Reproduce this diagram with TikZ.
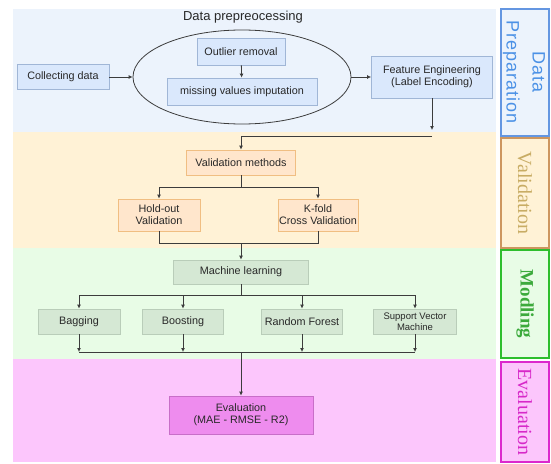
\documentclass[tikz,border=0pt]{standalone}
\usepackage{fontspec}
\setmainfont{Liberation Sans}
\newfontfamily\serifont{Liberation Serif}
\newfontfamily\widesans[LetterSpace=6]{Liberation Sans}
\usetikzlibrary{shapes.geometric,arrows.meta}
\definecolor{bandblue}{RGB}{236,243,252}
\definecolor{bandorange}{RGB}{255,242,214}
\definecolor{bandgreen}{RGB}{232,252,230}
\definecolor{bandpink}{RGB}{252,198,252}
\definecolor{boxblue}{RGB}{218,232,252}
\definecolor{lineblue}{RGB}{160,182,214}
\definecolor{boxorange}{RGB}{255,230,204}
\definecolor{lineorange}{RGB}{240,190,130}
\definecolor{boxgreen}{RGB}{213,232,212}
\definecolor{linegreen}{RGB}{185,205,185}
\definecolor{boxpink}{RGB}{238,140,238}
\definecolor{linepink}{RGB}{200,110,200}
\definecolor{labblue}{RGB}{75,145,230}
\definecolor{labblueline}{RGB}{100,150,225}
\definecolor{laborange}{RGB}{200,172,100}
\definecolor{laborangeline}{RGB}{205,150,95}
\definecolor{labgreen}{RGB}{60,170,60}
\definecolor{labgreenline}{RGB}{45,190,45}
\definecolor{labpink}{RGB}{215,40,200}
\definecolor{labpinkline}{RGB}{220,40,205}
\definecolor{txt}{RGB}{40,40,40}
\definecolor{conn}{RGB}{60,60,60}
\tikzset{
  basebox/.style={draw, line width=0.8pt, text=txt, align=center, inner sep=1pt,
    font=\fontsize{10.8}{12}\selectfont},
  bbox/.style={basebox, fill=boxblue, draw=lineblue},
  obox/.style={basebox, fill=boxorange, draw=lineorange},
  gbox/.style={basebox, fill=boxgreen, draw=linegreen},
  pbox/.style={basebox, fill=boxpink, draw=linepink},
  arr/.style={draw=conn, line width=0.8pt, -{Latex[length=4pt,width=4pt]}},
  ln/.style={draw=conn, line width=0.8pt},
  labbox/.style={line width=1.5pt}
}
\begin{document}
\begin{tikzpicture}[x=1pt,y=-1pt]
\useasboundingbox (0,0) rectangle (551,463);
% bands
\fill[bandblue] (13,9) rectangle (496,132);
\fill[bandorange] (13,132) rectangle (496,248);
\fill[bandgreen] (13,248) rectangle (496,359);
\fill[bandpink] (13,359) rectangle (496,462);
% side labels
\draw[labbox, draw=labblueline, fill=bandblue] (501,9) rectangle (549,136);
\draw[labbox, draw=laborangeline, fill=bandorange] (501,138) rectangle (549,248);
\draw[labbox, draw=labgreenline, fill=bandgreen] (501,250) rectangle (549,358);
\draw[labbox, draw=labpinkline, fill=bandpink] (501,362) rectangle (549,462);
\node[rotate=-90, text=labblue, align=center, font=\widesans\fontsize{18}{26}\selectfont] (lab1) at (524,72) {Data\\Preparation};
\node[rotate=-90, text=laborange, font=\serifont\fontsize{20}{22}\selectfont] (lab2) at (525,193) {Validation};
\node[rotate=-90, text=labgreen, font=\serifont\bfseries\fontsize{19}{21}\selectfont] (lab3) at (525,304) {Modling};
\node[rotate=-90, text=labpink, font=\serifont\fontsize{20}{22}\selectfont] (lab4) at (525,412) {Evaluation};
% data preparation
\node[text=txt, font=\fontsize{13}{15}\selectfont] (title) at (243,17) {Data prepreocessing};
\node[ellipse, draw=conn, line width=0.8pt, minimum width=218pt, minimum height=94pt] (ell) at (242,77) {};
\node[bbox, minimum width=88pt, minimum height=27pt] (out) at (241,51.5) {Outlier removal};
\node[bbox, minimum width=150pt, minimum height=27pt] (miss) at (242,91.5) {missing values imputation};
\node[bbox, minimum width=92pt, minimum height=25pt] (coll) at (63,77) {Collecting data};
\node[bbox, minimum width=121pt, minimum height=42pt] (fe) at (432,77) {Feature Engineering\\(Label Encoding)};
\draw[arr] (coll) -- (ell.west);
\draw[arr] (out) -- (miss);
\draw[arr] (ell.east) -- (fe.west);
\coordinate (c1) at (432,130);
\coordinate (c2) at (432,136);
\draw[arr] (fe.south) -- (c1);
% validation
\node[obox, minimum width=109pt, minimum height=25pt] (val) at (241,162.5) {Validation methods};
\node[obox, minimum width=82pt, minimum height=32pt] (hold) at (159,215) {Hold-out\\Validation};
\node[obox, minimum width=80pt, minimum height=32pt] (kfold) at (318,215) {K-fold\\Cross Validation};
\draw[arr] (c2) -| (val.north);
\coordinate (vb) at (241,187);
\draw[ln] (val.south) -- (vb);
\draw[arr] (vb) -| (hold.north);
\draw[arr] (vb) -| (kfold.north);
\coordinate (vj) at (241,243);
\draw[ln] (hold.south) |- (vj);
\draw[ln] (kfold.south) |- (vj);
% modelling
\node[gbox, minimum width=135pt, minimum height=24pt] (ml) at (241,272) {Machine learning};
\draw[arr] (vj) -- (ml.north);
\node[gbox, minimum width=82pt, minimum height=25pt] (bag) at (79,321.5) {Bagging};
\node[gbox, minimum width=81pt, minimum height=25pt] (boo) at (183,321.5) {Boosting};
\node[gbox, minimum width=81pt, minimum height=25pt] (rf) at (302,321.5) {Random Forest};
\node[gbox, minimum width=83pt, minimum height=25pt, font=\fontsize{9.5}{10.5}\selectfont] (svm) at (415,321.5) {Support Vector\\Machine};
\coordinate (mb) at (241,295);
\draw[ln] (ml.south) -- (mb);
\draw[ln] (bag.north |- mb) -- (svm.north |- mb);
\foreach \n in {bag,boo,rf,svm}{\draw[arr] (\n.north |- mb) -- (\n.north);}
\coordinate (eb) at (241,352);
\foreach \n in {bag,boo,rf,svm}{\draw[arr] (\n.south) -- (\n.south |- eb);}
\draw[ln] (bag.south |- eb) -- (svm.south |- eb);
% evaluation
\node[pbox, minimum width=144pt, minimum height=38pt] (ev) at (241,415) {Evaluation\\(MAE - RMSE - R2)};
\draw[arr] (eb) -- (ev.north);
\end{tikzpicture}
\end{document}
